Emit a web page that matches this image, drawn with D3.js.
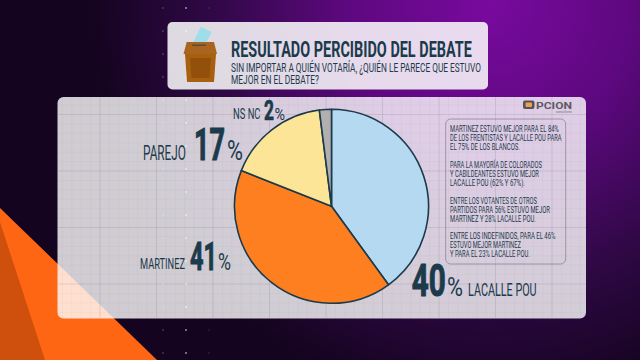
<!DOCTYPE html>
<html>
<head>
<meta charset="utf-8">
<script src="https://cdn.jsdelivr.net/npm/d3@7"></script>
<style>
  html, body { margin: 0; padding: 0; background: #14041f; overflow: hidden; }
  svg { display: block; }
  text { font-family: "Liberation Sans Narrow", "Roboto", sans-serif; fill: #1b3a4b; }
</style>
</head>
<body>
<div id="chart"></div>
<script>
// --- 1. DATA ---
const categories = ["LACALLE POU", "MARTINEZ", "PAREJO", "NS NC"];
const values = [40, 41, 17, 2];
const sliceColors = ["#b5d9f1", "#fd7f20", "#fde598", "#b2afb0"];
const titleText = "RESULTADO PERCIBIDO DEL DEBATE";
const subtitleLines = ["SIN IMPORTAR A QUIÉN VOTARÍA, ¿QUIÉN LE PARECE QUE ESTUVO", "MEJOR EN EL DEBATE?"];
const subtitleWidths = [250, 88];
const noteLines = [
  "MARTINEZ ESTUVO MEJOR PARA EL 84%",
  "DE LOS FRENTISTAS Y LACALLE POU PARA",
  "EL 75% DE LOS BLANCOS.",
  "",
  "PARA LA MAYORÍA DE COLORADOS",
  "Y CABILDEANTES ESTUVO MEJOR",
  "LACALLE POU (62% Y 67%).",
  "",
  "ENTRE LOS VOTANTES DE OTROS",
  "PARTIDOS PARA 56% ESTUVO MEJOR",
  "MARTINEZ Y 28% LACALLE POU.",
  "",
  "ENTRE LOS INDEFINIDOS, PARA EL 46%",
  "ESTUVO MEJOR MARTINEZ",
  "Y PARA EL 23% LACALLE POU."
];
const noteWidths = [109, 111.5, 70, 0, 92, 89, 75, 0, 87, 100, 86, 0, 105.5, 71, 80];

// --- 2. SETUP ---
const width = 640, height = 360;
const svg = d3.select("#chart").append("svg")
  .attr("width", width)
  .attr("height", height);
const defs = svg.append("defs");

// squeezes text to a measured width, the font in the picture is narrower than what is installed
function label(parent, str, x, y, size, w, weight) {
  const t = parent.append("text")
    .attr("font-size", size)
    .attr("font-weight", weight || "normal")
    .text(str);
  const natural = t.node().getComputedTextLength();
  t.attr("transform", `translate(${x}, ${y}) scale(${w / natural}, 1)`);
  return t;
}

// big number with its % sign
function percent(value, x, y, size, w, pctX, pctSize, pctW) {
  label(svg, value, x, y, size, w, "bold")
    .attr("stroke", "#1b3a4b")
    .attr("stroke-width", size * 0.025);
  label(svg, "%", pctX, y, pctSize, pctW);
}

// --- 3. BACKGROUND ---
const glow = defs.append("radialGradient")
  .attr("id", "glow")
  .attr("gradientUnits", "userSpaceOnUse")
  .attr("cx", 490).attr("cy", 5).attr("r", 400);
glow.append("stop").attr("offset", "0").attr("stop-color", "#780a9e");
glow.append("stop").attr("offset", "0.35").attr("stop-color", "#5e0880");
glow.append("stop").attr("offset", "0.7").attr("stop-color", "#2f0845");
glow.append("stop").attr("offset", "1").attr("stop-color", "#14041f");

svg.append("rect").attr("width", width).attr("height", height).attr("fill", "#14041f");
svg.append("rect").attr("width", width).attr("height", height).attr("fill", "url(#glow)");

const tri = d3.line();
svg.append("path").attr("d", tri([[0, 208], [157, 360], [0, 360]]) + "Z").attr("fill", "#ff6614");
svg.append("path").attr("d", tri([[0, 222], [45, 360], [0, 360]]) + "Z").attr("fill", "#cf4f0c");

const dotX = d3.range(163, 210, 23);
const dotY = d3.range(8, 354, 23);

// --- 4. PANELS ---
const panel = { x: 57.5, y: 97, w: 528.5, h: 221.5 };
svg.append("rect")
  .attr("x", panel.x).attr("y", panel.y)
  .attr("width", panel.w).attr("height", panel.h)
  .attr("rx", 6)
  .attr("fill", "#fff").attr("fill-opacity", 0.8);

defs.append("clipPath").attr("id", "panelClip")
  .append("rect")
  .attr("x", panel.x).attr("y", panel.y)
  .attr("width", panel.w).attr("height", panel.h)
  .attr("rx", 6);

const grid = svg.append("g").attr("clip-path", "url(#panelClip)");
const minorX = d3.range(100 - 9.42 * 5, panel.x + panel.w, 9.42);
const minorY = d3.range(114.5 - 9.42 * 2, panel.y + panel.h, 9.42);
grid.selectAll(".minorV").data(minorX).enter().append("line")
  .attr("x1", d => d).attr("x2", d => d)
  .attr("y1", panel.y).attr("y2", panel.y + panel.h)
  .attr("stroke", "#8a8594").attr("stroke-opacity", 0.1).attr("stroke-width", 0.6);
grid.selectAll(".minorH").data(minorY).enter().append("line")
  .attr("y1", d => d).attr("y2", d => d)
  .attr("x1", panel.x).attr("x2", panel.x + panel.w)
  .attr("stroke", "#8a8594").attr("stroke-opacity", 0.1).attr("stroke-width", 0.6);
grid.selectAll(".majorV").data(d3.range(100, panel.x + panel.w, 56.5)).enter().append("line")
  .attr("x1", d => d).attr("x2", d => d)
  .attr("y1", panel.y).attr("y2", panel.y + panel.h)
  .attr("stroke", "#8a8594").attr("stroke-opacity", 0.2).attr("stroke-width", 1);
grid.selectAll(".majorH").data(d3.range(114.5, panel.y + panel.h, 56.5)).enter().append("line")
  .attr("y1", d => d).attr("y2", d => d)
  .attr("x1", panel.x).attr("x2", panel.x + panel.w)
  .attr("stroke", "#8a8594").attr("stroke-opacity", 0.2).attr("stroke-width", 1);

svg.append("rect")
  .attr("x", 167.5).attr("y", 22)
  .attr("width", 320.5).attr("height", 67.5)
  .attr("rx", 5)
  .attr("fill", "#fff").attr("fill-opacity", 0.85);

// dots on top
const dots = svg.append("g");
dotX.forEach((x, i) => {
  dotY.forEach(y => {
    dots.append("circle")
      .attr("cx", x).attr("cy", y).attr("r", i === 1 ? 0.9 : 0.7)
      .attr("fill", "#fff")
      .attr("fill-opacity", i === 1 ? 0.6 : i === 0 ? 0.4 : 0.2);
  });
});

// --- 5. BALLOT BOX ICON ---
const icon = svg.append("g");
icon.append("rect")
  .attr("x", 196.5).attr("y", 28.5).attr("width", 12).attr("height", 17)
  .attr("transform", "rotate(26 202.5 37)")
  .attr("fill", "#9fdde8");
icon.append("path")
  .attr("d", tri([[186.7, 42], [214, 42], [217, 54], [183.5, 54]]) + "Z")
  .attr("fill", "#a9651f");
icon.append("rect").attr("x", 192).attr("y", 44.5).attr("width", 14).attr("height", 1.5).attr("fill", "#5a4a40");
icon.append("path")
  .attr("d", tri([[185, 54], [216, 54], [214, 82], [187, 82]]) + "Z")
  .attr("fill", "#a6600f");
icon.append("path")
  .attr("d", tri([[190, 58], [211, 58], [209.5, 78], [191.5, 78]]) + "Z")
  .attr("fill", "#93500b");

// --- 6. TITLE ---
label(svg, titleText, 231, 56.7, 22, 241, "bold");
subtitleLines.forEach((line, i) => {
  label(svg, line, 231, 72.3 + i * 12, 12.5, subtitleWidths[i]);
});

// --- 7. PIE ---
const radius = 97;
const pie = d3.pie().sort(null)(values);
const arc = d3.arc().innerRadius(0).outerRadius(radius);
const color = d3.scaleOrdinal().domain(categories).range(sliceColors);

svg.append("g")
  .attr("transform", "translate(331.5, 206.3)")
  .selectAll("path")
  .data(pie)
  .enter()
  .append("path")
  .attr("d", arc)
  .attr("fill", (d, i) => color(categories[i]))
  .attr("stroke", "#1b3a4b")
  .attr("stroke-width", 1.6)
  .attr("stroke-linejoin", "round");

// --- 8. SLICE LABELS ---
label(svg, categories[3], 233, 119, 14, 27.5);
percent(values[3], 264, 119.5, 28, 10, 274.5, 17, 10.5);

label(svg, categories[2], 143, 160, 20, 43);
percent(values[2], 194, 160, 45, 31, 227, 28, 16);

label(svg, categories[1], 140, 269, 15.5, 45);
percent(values[1], 190, 270, 38, 27, 218, 23, 13);

percent(values[0], 411.7, 295.7, 44, 34, 447, 25, 16);
label(svg, categories[0], 468, 295.7, 19, 68.7);

// --- 9. NOTE BOX ---
svg.append("rect")
  .attr("x", 445.7).attr("y", 119)
  .attr("width", 120).attr("height", 145)
  .attr("rx", 5)
  .attr("fill", "none")
  .attr("stroke", "#8b8794")
  .attr("stroke-width", 0.8);

noteLines.forEach((line, i) => {
  if (line) label(svg, line, 450, 131.7 + i * 8.98, 9.6, noteWidths[i]);
});

// --- 10. LOGO ---
const logo = svg.append("g");
logo.append("rect").attr("x", 523).attr("y", 100.5).attr("width", 11.5).attr("height", 8.5).attr("rx", 2).attr("fill", "#55525a");
logo.append("rect").attr("x", 525.5).attr("y", 102.5).attr("width", 6.5).attr("height", 4.5).attr("rx", 1).attr("fill", "#eda050");
label(logo, "PCION", 536, 109, 8.5, 36, "bold").style("fill", "#5c5962");
label(logo, "consultores", 556, 112.5, 3, 16).style("fill", "#77747c");
</script>
</body>
</html>
